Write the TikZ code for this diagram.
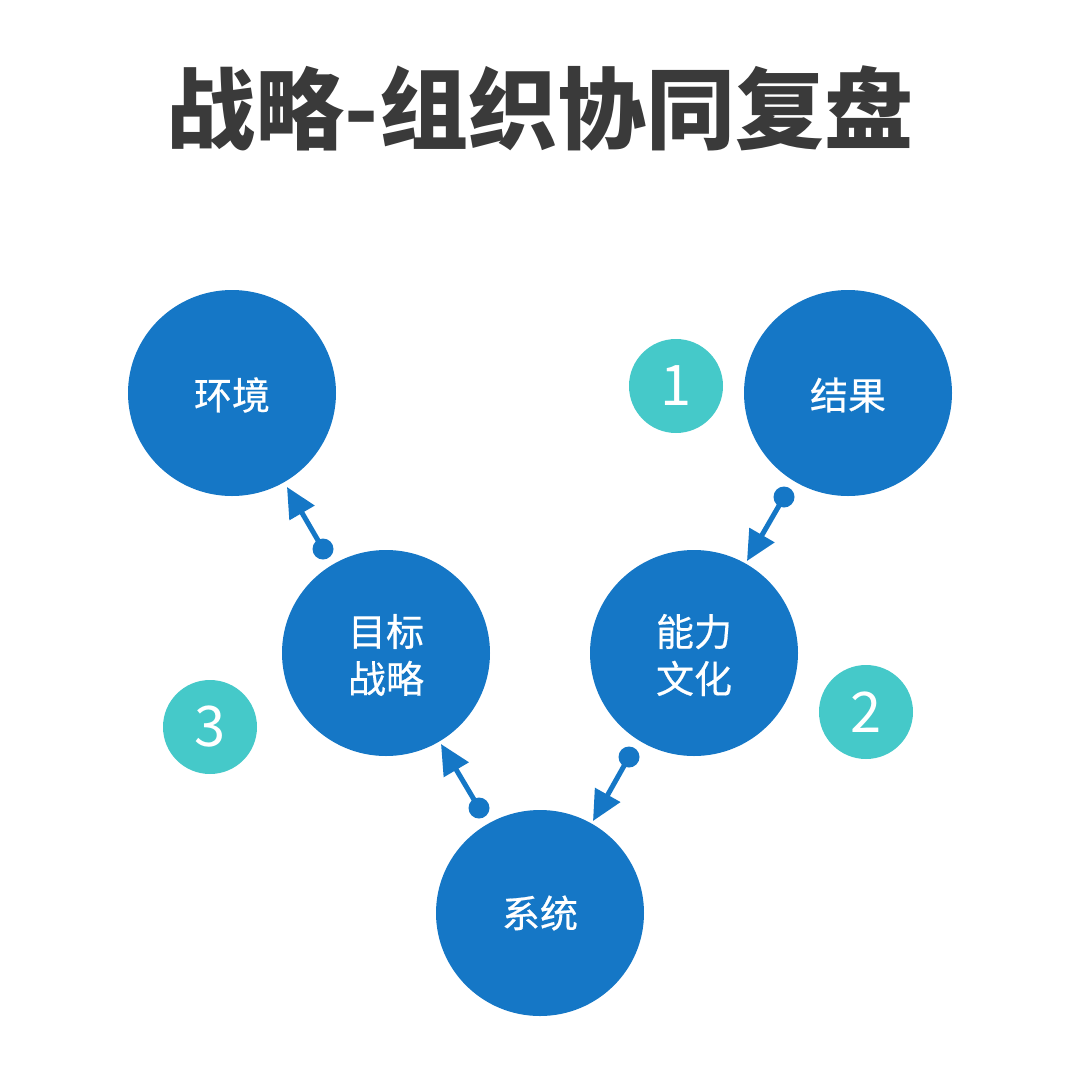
\documentclass[tikz,border=0pt]{standalone}
\usepackage{fontspec}
\setmainfont{Noto Sans CJK SC}
\newfontfamily\labfont[FakeBold=0.5]{Noto Sans CJK SC}
\usetikzlibrary{arrows.meta}
\definecolor{blobblue}{HTML}{1577C6}
\definecolor{teal}{HTML}{45C9C9}
\definecolor{titlegray}{HTML}{3A3A3A}
\tikzset{
  blob/.pic={\fill[blobblue] (0,0) ellipse [x radius=104, y radius=103];},
  blabel/.style={text=white, font=\labfont\fontsize{38}{47}\selectfont, align=center, inner sep=0},
  numbadge/.style={circle, fill=teal, minimum size=94pt, inner sep=0, text=white, font=\fontsize{56}{60}\selectfont},
  conn/.style={draw=blobblue, line width=5pt, -{Triangle[length=30pt,width=28pt]}},
  dotend/.style={fill=blobblue}
}
\begin{document}
\begin{tikzpicture}[x=1pt,y=-1pt]
\fill[white] (0,0) rectangle (1080,1080);
\useasboundingbox (0,0) rectangle (1080,1080);
\node[text=titlegray, font=\fontsize{89}{90}\selectfont\bfseries] (title) at (540,108) {战略-组织协同复盘};
\pic at (232,393) {blob};
\pic at (848,393) {blob};
\pic at (386,653) {blob};
\pic at (694,653) {blob};
\pic at (540,913) {blob};
\node[blabel] (env) at (232,395) {环境};
\node[blabel] (res) at (848,395) {结果};
\node[blabel] (goal) at (386,655) {目标\\战略};
\node[blabel] (cap) at (694,655) {能力\\文化};
\node[blabel] (sys) at (540,913) {系统};
\node[numbadge] (n1) at (676,386) {1};
\node[numbadge] (n2) at (866,712) {2};
\node[numbadge] (n3) at (210,727) {3};
\coordinate (d1) at (323,549); \coordinate (t1) at (287,487);
\coordinate (d2) at (784,497); \coordinate (t2) at (747,561);
\coordinate (d3) at (479,808); \coordinate (t3) at (441,744);
\coordinate (d4) at (629,757); \coordinate (t4) at (593,821);
\foreach \d/\t in {d1/t1,d2/t2,d3/t3,d4/t4}{
  \draw[conn] (\d) -- (\t);
  \fill[dotend] (\d) circle (10.5);
}
\end{tikzpicture}
\end{document}
